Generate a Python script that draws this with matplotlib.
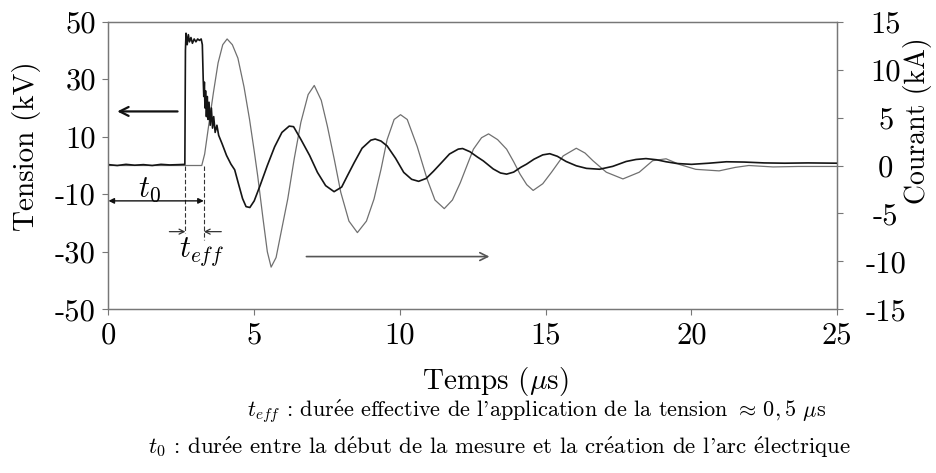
import numpy as np
import matplotlib.pyplot as plt

plt.rcParams['font.family'] = ['cmr10', 'DejaVu Serif']
plt.rcParams['mathtext.fontset'] = 'cm'
plt.rcParams['axes.unicode_minus'] = False

t_tension = [0.0, 0.3, 0.6, 0.9, 1.2, 1.5, 1.8, 2.1, 2.4, 2.62,
             2.64, 2.66, 2.70, 2.74, 2.78, 2.83, 2.88, 2.94, 3.00, 3.06, 3.12, 3.18, 3.22,
             3.25, 3.27, 3.29, 3.31, 3.33, 3.36, 3.39, 3.42, 3.45, 3.49, 3.53, 3.57, 3.61,
             3.66, 3.72, 3.78, 3.90, 4.05, 4.20, 4.33, 4.45, 4.60, 4.72, 4.85, 5.00,
             5.20, 5.45, 5.70, 5.95, 6.20, 6.35, 6.60, 6.90, 7.17, 7.45, 7.74, 8.00,
             8.20, 8.43, 8.70, 9.00, 9.15, 9.35, 9.56, 9.85, 10.13, 10.40, 10.64, 10.90,
             11.15, 11.38, 11.70, 12.00, 12.15, 12.40, 12.65, 12.86, 13.20, 13.45, 13.66,
             13.90, 14.15, 14.34, 14.60, 14.90, 15.14, 15.40, 15.70, 16.05, 16.40, 16.85,
             17.30, 17.76, 18.10, 18.44, 18.80, 19.13, 19.50, 20.00, 20.60, 21.20, 21.80,
             22.50, 23.20, 24.00, 25.00]
tension = [0.3, 0.0, 0.4, 0.1, 0.3, 0.0, 0.4, 0.2, 0.3, 0.4,
           40.0, 46.0, 42.0, 45.5, 43.0, 44.5, 42.5, 44.0, 43.0, 44.0, 43.5, 44.0, 42.0,
           30.0, 24.0, 29.0, 20.0, 26.0, 17.0, 24.0, 16.0, 22.0, 14.0, 20.0, 13.0, 17.0,
           11.5, 14.0, 10.5, 7.5, 3.5, 0.5, -1.5, -6.0, -11.5, -14.3, -14.6, -12.3,
           -7.0, 0.0, 6.5, 11.5, 13.7, 13.5, 9.1, 3.5, -2.4, -7.0, -9.1, -7.5,
           -3.5, 1.0, 6.0, 8.8, 9.2, 8.5, 6.8, 2.5, -2.4, -4.8, -5.5, -4.5,
           -2.0, 0.5, 4.0, 5.7, 5.9, 4.8, 3.0, 1.6, -1.2, -2.6, -3.0,
           -2.3, -0.6, 0.45, 2.2, 3.7, 4.1, 3.2, 1.4, -0.1, -1.0, -1.3,
           -0.3, 1.4, 2.1, 2.4, 2.0, 1.3, 0.7, 0.4, 0.8, 1.3, 1.2,
           0.9, 0.8, 0.9, 0.8]

# courant d'arc (kA)
t_courant = [0.0, 3.20, 3.30, 3.42, 3.60, 3.76, 3.92, 4.07, 4.25, 4.44, 4.65, 4.84,
             5.00, 5.12, 5.30, 5.45, 5.58, 5.75, 5.92, 6.15, 6.37, 6.60, 6.85, 7.06,
             7.30, 7.51, 7.75, 7.97, 8.25, 8.54, 8.85, 9.11, 9.35, 9.56, 9.80, 10.02,
             10.25, 10.59, 10.93, 11.20, 11.52, 11.80, 12.07, 12.30, 12.52, 12.80, 13.04,
             13.35, 13.66, 13.90, 14.12, 14.35, 14.57, 14.90, 15.20, 15.60, 16.05, 16.35,
             16.62, 17.08, 17.65, 18.21, 18.67, 19.13, 19.60, 20.15, 20.95, 21.50, 21.97,
             22.80, 23.67, 25.00]
courant = [0.0, 0.0, 1.2, 3.8, 7.6, 10.7, 12.6, 13.2, 12.6, 11.2, 8.2, 4.8,
           1.5, -1.1, -5.5, -9.0, -10.6, -9.6, -7.0, -3.5, 0.66, 4.5, 7.4, 8.35,
           6.8, 4.1, 0.6, -2.8, -5.8, -7.0, -5.8, -3.5, -0.4, 2.7, 4.8, 5.3,
           4.8, 2.0, -1.4, -3.6, -4.5, -3.6, -1.8, 0.0, 1.7, 2.9, 3.3,
           2.7, 1.7, 0.4, -0.9, -2.0, -2.6, -1.9, -0.7, 1.0, 1.8, 1.3,
           0.5, -0.7, -1.4, -0.7, 0.5, 0.7, 0.1, -0.4, -0.56, -0.2, 0.0,
           -0.15, -0.1, -0.1]

xticks = [0, 5, 10, 15, 20, 25]
yticks_v = [-50, -30, -10, 10, 30, 50]
yticks_i = [-15, -10, -5, 0, 5, 10, 15]

# instants caractéristiques (µs)
t_debut = 2.64
t_fin = 3.27

# cmr10 n'a pas les accents : on passe par mathtext
E_AIGU = r"$\mathrm{\'e}$"
MU = r"$\mathrm{\mu}$"

fig = plt.figure(figsize=(9.36, 4.73), dpi=100)
ax = fig.add_axes([0.1159, 0.3461, 0.7785, 0.6080])
ax2 = ax.twinx()

ax2.plot(t_courant, courant, color='#707070', lw=0.9)
ax.plot(t_tension, tension, color='#151515', lw=1.2)
ax.set_zorder(ax2.get_zorder() + 1)
ax.patch.set_visible(False)

ax.set_xlim(0, 25)
ax.set_ylim(-50, 50)
ax2.set_ylim(-15, 15)

ax.set_xticks(xticks)
ax.set_xticklabels([str(v) for v in xticks])
ax.set_yticks(yticks_v)
ax.set_yticklabels([str(v) for v in yticks_v])
ax2.set_yticks(yticks_i)
ax2.set_yticklabels([str(v) for v in yticks_i], ha='center')

for a in (ax, ax2):
    for s in a.spines.values():
        s.set_color('#777777')
        s.set_linewidth(0.9)
ax.tick_params(axis='both', direction='out', length=4, width=0.8, color='#777777',
               labelsize=22, pad=5)
ax2.tick_params(axis='y', direction='out', length=4, width=0.8, color='#777777',
                labelsize=22, pad=31)

ax.set_ylabel('Tension (kV)', fontsize=21, va='center', ha='center', rotation_mode='anchor')
ax.yaxis.set_label_coords(-0.113, 0.566)
ax2.set_ylabel('Courant (kA)', fontsize=20, va='center', ha='center', rotation_mode='anchor')
ax2.yaxis.set_label_coords(1.11, 0.655)
ax.set_xlabel('Temps (' + MU + 's)', fontsize=21, va='center')
ax.xaxis.set_label_coords(0.531, -0.25)

# flèches indiquant l'axe de chaque courbe
ax.annotate('', xy=(0.3, 18.8), xytext=(2.37, 18.8),
            arrowprops=dict(arrowstyle='->', color='#111111', lw=1.6,
                            mutation_scale=16, shrinkA=0, shrinkB=0))
ax2.annotate('', xy=(13.07, -9.5), xytext=(6.79, -9.5),
             arrowprops=dict(arrowstyle='->', color='#555555', lw=1.2,
                             mutation_scale=14, shrinkA=0, shrinkB=0))

# t0 : du début de la mesure à la création de l'arc
ax.annotate('', xy=(0, -12.3), xytext=(t_fin, -12.3),
            arrowprops=dict(arrowstyle='<|-|>', color='#111111', lw=1.0,
                            mutation_scale=8, shrinkA=0, shrinkB=0))
ax.text(1.4, -8.6, '$t_0$', fontsize=22, ha='center', va='center')

# teff : durée d'application de la tension
ax.plot([t_debut, t_debut], [0, -23.5], color='#333333', lw=0.8, ls=(0, (4, 2)))
ax.plot([t_fin, t_fin], [0, -26.0], color='#333333', lw=0.8, ls=(0, (4, 2)))
ax.annotate('', xy=(t_debut, -23.0), xytext=(t_debut - 0.55, -23.0),
            arrowprops=dict(arrowstyle='->', color='#333333', lw=0.9,
                            mutation_scale=9, shrinkA=0, shrinkB=0))
ax.annotate('', xy=(t_fin, -23.0), xytext=(t_fin + 0.6, -23.0),
            arrowprops=dict(arrowstyle='->', color='#333333', lw=0.9,
                            mutation_scale=9, shrinkA=0, shrinkB=0))
ax.text(3.2, -30.0, '$t_{eff}$', fontsize=22, ha='center', va='center')

ligne1 = ("$t_{eff}$ : dur" + E_AIGU + "e effective de l'application de la tension "
          "$\\approx\\, 0,5$ " + MU + "s")
ligne2 = ("$t_0$ : dur" + E_AIGU + "e entre la d" + E_AIGU + "but de la mesure et la cr"
          + E_AIGU + "ation de l'arc " + E_AIGU + "lectrique")
fig.text(537 / 936, 1 - 411 / 473, ligne1, fontsize=16, ha='center', va='center')
fig.text(500 / 936, 1 - 447 / 473, ligne2, fontsize=16.5, ha='center', va='center')

fig.savefig('out.png', dpi=100)
